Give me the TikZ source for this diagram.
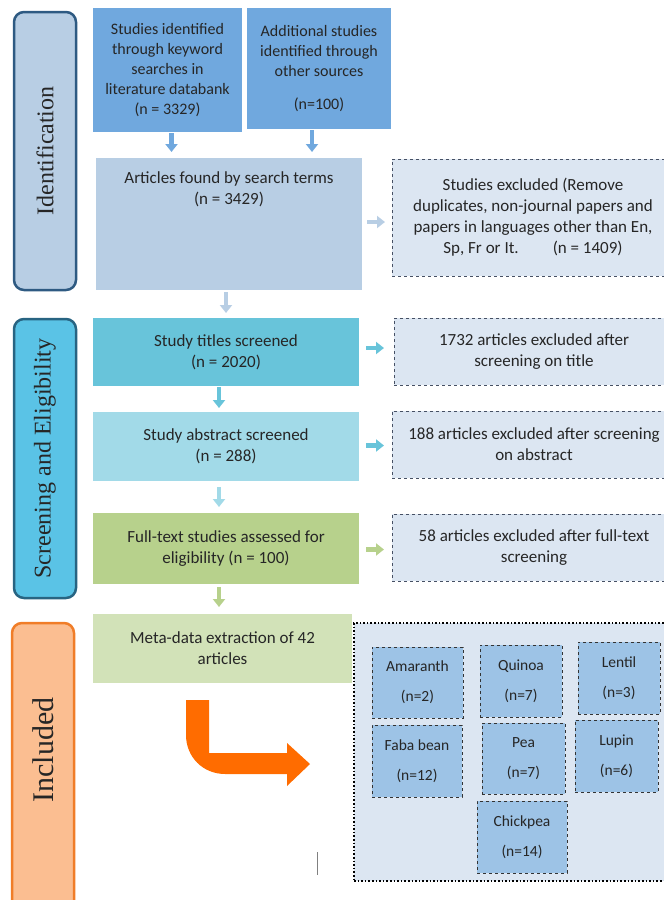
\documentclass[tikz,border=0pt]{standalone}
\usepackage{fontspec}
\usepackage{xcolor}
\usepackage{tikz}
\usetikzlibrary{positioning,arrows.meta}
\newfontfamily\boxfont{Carlito}
\newfontfamily\stripfont{Liberation Serif}
\definecolor{topblue}{RGB}{112,168,222}
\definecolor{artblue}{RGB}{184,206,228}
\definecolor{titcyan}{RGB}{104,196,218}
\definecolor{abscyan}{RGB}{162,218,232}
\definecolor{fullgreen}{RGB}{183,209,140}
\definecolor{metagreen}{RGB}{210,226,184}
\definecolor{exclfill}{RGB}{220,230,242}
\definecolor{exclline}{RGB}{70,80,100}
\definecolor{smallblue}{RGB}{157,195,230}
\definecolor{identline}{RGB}{46,90,130}
\definecolor{screenfill}{RGB}{90,195,230}
\definecolor{screenline}{RGB}{40,100,130}
\definecolor{inclfill}{RGB}{251,190,145}
\definecolor{inclline}{RGB}{240,125,40}
\definecolor{bigorange}{RGB}{255,108,0}
\definecolor{textgray}{RGB}{38,38,38}

\begin{document}
\begin{tikzpicture}[
        x=1pt, y=-1pt,
        box/.style={rectangle, inner sep=0pt, outer sep=0pt, anchor=north west, align=center, text=textgray, font={\boxfont\fontsize{17}{21}\selectfont}},
        topbox/.style={box, fill=topblue, font={\boxfont\fontsize{16}{20}\selectfont}},
        exclbox/.style={box, fill=exclfill, draw=exclline, dashed, line width=0.8pt},
        cropbox/.style={box, fill=smallblue, draw=black!80, dashed, line width=0.8pt, font={\boxfont\fontsize{15.5}{19}\selectfont}},
        strip/.style={rectangle, rounded corners=10pt, line width=2.5pt, inner sep=0pt, outer sep=0pt, anchor=north west, minimum width=62pt, text=textgray},
        striptext/.style={rotate=90, text=textgray, font={\stripfont\fontsize{24}{28}\selectfont}},
        arr/.style={line width=4.5pt, -{Triangle[width=12pt,length=8pt]}}
    ]
        \useasboundingbox (0,0) rectangle (664,900);
        \clip (0,0) rectangle (664,900);

        % Stage strips
        \node (ident) [strip, fill=artblue, draw=identline, minimum height=278pt] at (14,12) {};
        \node (identlabel) [striptext] at (ident.center) {Identification};
        \node (screen) [strip, fill=screenfill, draw=screenline, minimum height=279pt] at (14,319) {};
        \node (screenlabel) [striptext] at (screen.center) {Screening and Eligibility};
        \node (incl) [strip, fill=inclfill, draw=inclline, minimum height=300pt] at (12,623) {};
        \node (incllabel) [striptext, font={\stripfont\fontsize{30}{34}\selectfont}] at (43,750) {Included};

        % Identification
        \node (src1) [topbox, minimum width=149pt, minimum height=124pt] at (93,8)
            {Studies identified\\through keyword\\searches in\\literature databank\\(n = 3329)};
        \node (src2) [topbox, minimum width=144pt, minimum height=121pt] at (247,8)
            {Additional studies\\identified through\\other sources\\[13pt](n=100)};
        \node (art) [box, fill=artblue, minimum width=266pt, minimum height=132pt] at (96,158) {};
        \node (arttext) [box, anchor=north] at ([yshift=-14pt]art.north)
            {Articles found by search terms\\(n = 3429)};
        \node (excl1) [exclbox, minimum width=282pt, minimum height=117pt] at (392,159)
            {Studies excluded (Remove\\duplicates, non-journal papers and\\papers in languages other than En,\\Sp, Fr or It.\qquad(n = 1409)};

        % Screening and eligibility
        \node (tit) [box, fill=titcyan, minimum width=266pt, minimum height=68pt] at (93,318)
            {Study titles screened\\(n = 2020)};
        \node (excl2) [exclbox, minimum width=280pt, minimum height=67pt] at (394,318)
            {1732 articles excluded after\\screening on title};
        \node (abs) [box, fill=abscyan, minimum width=266pt, minimum height=69pt] at (93,412)
            {Study abstract screened\\(n = 288)};
        \node (excl3) [exclbox, minimum width=284pt, minimum height=67pt] at (392,411)
            {188 articles excluded after screening\\on abstract};
        \node (full) [box, fill=fullgreen, minimum width=266pt, minimum height=71pt] at (93,513)
            {Full-text studies assessed for\\eligibility (n = 100)};
        \node (excl4) [exclbox, minimum width=284pt, minimum height=67pt] at (392,514)
            {58 articles excluded after full-text\\screening};

        % Included
        \node (meta) [box, fill=metagreen, minimum width=259pt, minimum height=69pt] at (93,614)
            {Meta-data extraction of 42\\articles};
        \node (pool) [box, fill=exclfill, draw=black, dotted, line width=1.6pt, minimum width=330pt, minimum height=258pt] at (354,623) {};
        \node (amar) [cropbox, minimum width=91pt, minimum height=71pt] at (372,647) {Amaranth\\[11pt](n=2)};
        \node (quin) [cropbox, minimum width=82pt, minimum height=72pt] at (480,645) {Quinoa\\[11pt](n=7)};
        \node (lent) [cropbox, minimum width=82pt, minimum height=72pt] at (578,642) {Lentil\\[11pt](n=3)};
        \node (faba) [cropbox, minimum width=90pt, minimum height=72pt] at (372,725) {Faba bean\\[11pt](n=12)};
        \node (pea) [cropbox, minimum width=83pt, minimum height=71pt] at (482,723) {Pea\\[11pt](n=7)};
        \node (lupi) [cropbox, minimum width=83pt, minimum height=72pt] at (575,720) {Lupin\\[11pt](n=6)};
        \node (chick) [cropbox, minimum width=90pt, minimum height=72pt] at (477,801) {Chickpea\\[11pt](n=14)};

        % Flow arrows
        \draw [arr, topblue, shorten <=1pt, shorten >=6pt] ([xshift=4pt]src1.south) -- ([xshift=4pt]src1.south |- art.north);
        \draw [arr, topblue, shorten <=1pt, shorten >=6pt] ([xshift=-7pt]src2.south) -- ([xshift=-7pt]src2.south |- art.north);
        \draw [arr, artblue, shorten <=2pt, shorten >=5pt] ([xshift=-3pt]art.south) -- ([xshift=-3pt]art.south |- tit.north);
        \draw [arr, artblue, shorten <=5pt, shorten >=7pt] ([yshift=2pt]art.east) -- ([yshift=2pt]art.east -| excl1.west);
        \draw [arr, titcyan, shorten <=1pt, shorten >=4pt] ([xshift=-7pt]tit.south) -- ([xshift=-7pt]tit.south |- abs.north);
        \draw [arr, titcyan, shorten <=7pt, shorten >=10pt] ([yshift=4pt]tit.east) -- ([yshift=4pt]tit.east -| excl2.west);
        \draw [arr, abscyan, shorten <=6pt, shorten >=6pt] ([xshift=-7pt]abs.south) -- ([xshift=-7pt]abs.south |- full.north);
        \draw [arr, titcyan, shorten <=7pt, shorten >=8pt] ([yshift=1pt]abs.east) -- ([yshift=1pt]abs.east -| excl3.west);
        \draw [arr, fullgreen, shorten <=3pt, shorten >=7pt] ([xshift=-7pt]full.south) -- ([xshift=-7pt]full.south |- meta.north);
        \draw [arr, fullgreen, shorten <=7pt, shorten >=8pt] ([yshift=-1pt]full.east) -- ([yshift=-1pt]full.east -| excl4.west);

        % Bent arrow into the crop pool
        \fill [bigorange] (186,700) -- (209,700) -- (209,753) -- (287,753) -- (287,743) -- (310,764)
            -- (287,786) -- (287,774) -- (225,774) .. controls (203,774) and (186,757) .. (186,735) -- cycle;
        \draw [gray, line width=1pt] (317,852) -- (317,875);
    \end{tikzpicture}
\end{document}
